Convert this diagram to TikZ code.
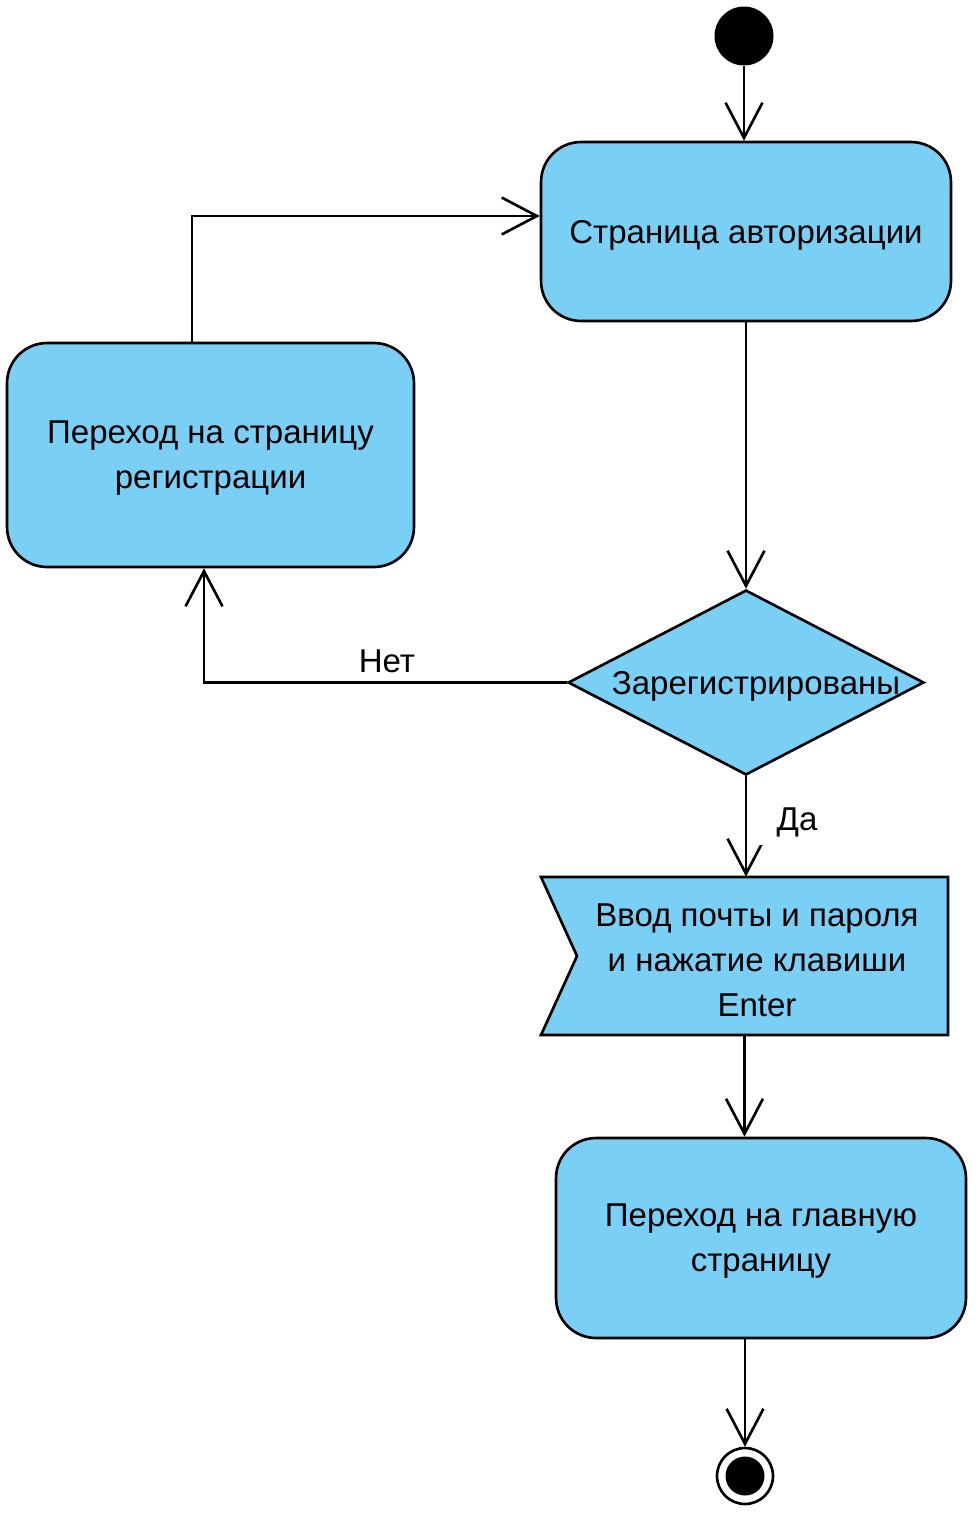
\documentclass[tikz,border=0pt]{standalone}
\usepackage{fontspec}
\setmainfont{Liberation Sans}
\usetikzlibrary{
positioning,
arrows.meta,
shapes.geometric
}
\definecolor{actblue}{RGB}{122,207,244}
\tikzset{
actbox/.style={
draw,
line width=1.5pt,
rounded corners=0.8cm,
fill=actblue,
align=center,
text depth=0pt,
font=\fontsize{18.8}{25.5}\selectfont
},
decision/.style={
diamond,
draw,
line width=1.5pt,
fill=actblue,
inner sep=0pt,
minimum width=7.12cm,
minimum height=3.7cm
},
signalbox/.style={
draw,
line width=1.5pt,
fill=actblue
},
txt/.style={
align=center,
font=\fontsize{18.8}{25.5}\selectfont
},
guard/.style={
fill=white,
inner sep=0pt,
font=\fontsize{18.8}{25.5}\selectfont
},
startdot/.style={
circle,
fill=black,
inner sep=0pt,
minimum size=1.18cm
},
enddot/.style={
circle,
draw,
line width=1.5pt,
fill=white,
inner sep=0pt,
minimum size=1.12cm
},
arrow/.style={
-{Straight Barb[length=20pt,width=21pt]},
line width=1.5pt
}
}
\begin{document}
\begin{tikzpicture}[x=0.02cm, y=-0.02cm]
\useasboundingbox (0,0) rectangle (978,1518);

\node[startdot] (start) at (744,36) {};
\node[actbox, minimum width=8.2cm, minimum height=3.58cm] (auth) at (746,231.5) {Страница авторизации};
\node[actbox, minimum width=8.14cm, minimum height=4.48cm] (reg) at (210.5,455) {Переход на страницу\\регистрации};
\node[decision] (dec) at (746,682.5) {};
\node[txt] (dectext) at (756,686) {Зарегистрированы};

% receive-signal shape
\path[signalbox] (541,877) -- (948,877) -- (948,1035) -- (541,1035) -- (577,956) -- cycle;
\node[minimum width=8.14cm, minimum height=3.16cm] (enter) at (744.5,956) {};
\node[txt] (entertext) at (757,960) {Ввод почты и пароля\\и нажатие клавиши\\Enter};

\node[actbox, minimum width=8.2cm, minimum height=4cm] (main) at (761,1238) {Переход на главную\\страницу};
\node[enddot] (end) at (745,1476) {};
\fill (end.center) circle (0.39cm);

\draw[arrow] (start.south) -- (start.south |- auth.north);
\draw[arrow] (auth.south) -- (dec.north);
\draw[arrow] (dec.west) -| ([xshift=-0.13cm]reg.south);
\node[guard, minimum width=2.4cm, minimum height=0.8cm] (no) at (387,661) {Нет};
\draw[arrow] ([xshift=-0.37cm]reg.north) |- ([yshift=0.31cm]auth.west);
\draw[arrow] (dec.south) -- (dec.south |- enter.north);
\node[guard, minimum width=2cm, minimum height=0.9cm] (yes) at (797,822.5) {Да};
\draw[arrow] (enter.south) -- (enter.south |- main.north);
\draw[arrow] (end.north |- main.south) -- (end.north);

\end{tikzpicture}
\end{document}
